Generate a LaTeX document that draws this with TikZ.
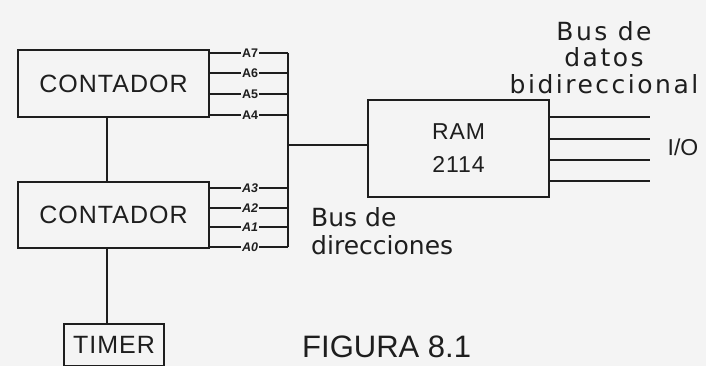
\documentclass[tikz,border=0pt]{standalone}
\usepackage{fontspec}
\setmainfont{Liberation Sans}
\newfontfamily\busfont{DejaVu Sans}
\newfontfamily\busfontwide[LetterSpace=10]{DejaVu Sans}
\newfontfamily\boxfont[LetterSpace=4]{Liberation Sans}
\definecolor{ink}{HTML}{1E1E1E}
\definecolor{paper}{HTML}{F4F4F4}
\begin{document}
\begin{tikzpicture}[x=1pt,y=-1pt,
  box/.style={draw=ink, line width=1.6pt, inner sep=0pt, text=ink},
  wire/.style={draw=ink, line width=1.3pt},
  pin/.style={inner sep=1pt, text=ink, font=\fontsize{12.5}{12.5}\selectfont\bfseries},
  pinlow/.style={pin, font=\fontsize{12.5}{12.5}\selectfont\bfseries\itshape},
  lbl/.style={inner sep=0pt, text=ink}]
\fill[paper] (0,0) rectangle (706,366);
\useasboundingbox (0,0) rectangle (706,366);

% boxes
\node[box, minimum width=191pt, minimum height=67pt, font=\boxfont\fontsize{25}{25}\selectfont] (c1) at (113.5,83.5) {CONTADOR};
\node[box, minimum width=191pt, minimum height=66pt, font=\boxfont\fontsize{25}{25}\selectfont] (c2) at (113.5,215) {CONTADOR};
\node[box, minimum width=181pt, minimum height=97pt, align=center, font=\boxfont\fontsize{23}{33}\selectfont] (ram) at (458.5,148.5) {RAM\\2114};
\node[box, minimum width=100pt, minimum height=42pt, font=\boxfont\fontsize{25}{25}\selectfont] (timer) at (114,345) {TIMER};

% address bus
\coordinate (bt) at (288,53);
\coordinate (bb) at (288,247);
\draw[wire] (bt) -- (bb);

\foreach \y/\t in {53/A7,73/A6,94/A5,115/A4} {
  \node[pin] (p\t) at (250,\y) {\t};
  \draw[wire] (c1.east |- p\t) -- (p\t.west);
  \draw[wire] (p\t.east) -- (p\t.east -| bt);
}
\foreach \y/\t in {188/A3,208/A2,227/A1,247/A0} {
  \node[pinlow] (p\t) at (250,\y) {\t};
  \draw[wire] (c2.east |- p\t) -- (p\t.west);
  \draw[wire] (p\t.east) -- (p\t.east -| bt);
}

% counters and timer chain
\draw[wire] ([xshift=-6.5pt]c1.south) -- ([xshift=-6.5pt]c2.north);
\draw[wire] ([xshift=-6.5pt]c2.south) -- ([xshift=-6.5pt]c2.south |- timer.north);

% bus to RAM
\coordinate (bj) at (288,145);
\draw[wire] (bj) -- (bj -| ram.west);

% data lines
\foreach \y [count=\i] in {117,139,160,181} {
  \coordinate (d\i) at (650,\y);
  \draw[wire] (d\i -| ram.east) -- (d\i);
}
\node[lbl, font=\fontsize{23}{23}\selectfont] (io) at (683,147) {I/O};

% labels
\node[lbl, anchor=north, align=center, font=\busfontwide\fontsize{25}{26.5}\selectfont] (bdd) at (604,21) {Bus de\\datos\\bidireccional};
\node[lbl, anchor=north west, align=left, font=\busfont\fontsize{25}{28}\selectfont] (bdir) at (311,207) {Bus de\\direcciones};
\node[lbl, anchor=base west, font=\fontsize{31}{31}\selectfont] (fig) at (302,357) {FIGURA 8.1};
\end{tikzpicture}
\end{document}
